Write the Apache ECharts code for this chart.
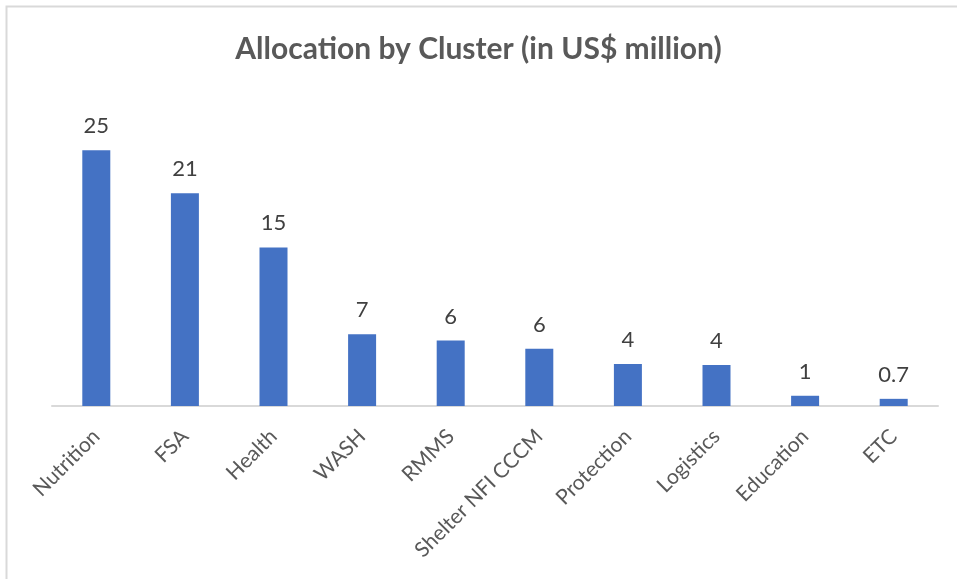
<!DOCTYPE html>
<html>
<head>
<meta charset="utf-8">
<script src="https://cdn.jsdelivr.net/npm/echarts@6/dist/echarts.min.js"></script>
<style>
  html, body { margin: 0; padding: 0; background: #fff; }
  #chart { width: 957px; height: 579px; }
</style>
</head>
<body>
<div id="chart"></div>
<script>
var clusters = ['Nutrition', 'FSA', 'Health', 'WASH', 'RMMS', 'Shelter NFI CCCM', 'Protection', 'Logistics', 'Education', 'ETC'];
// bar heights
var amounts = [25.0, 20.8, 15.5, 7.0, 6.4, 5.6, 4.1, 4.0, 1.0, 0.7];
// printed labels (rounded in the source)
var labels = ['25', '21', '15', '7', '6', '6', '4', '4', '1', '0.7'];

var chart = echarts.init(document.getElementById('chart'));

var option = {
    backgroundColor: '#fff',
    animation: false,
    title: {
        text: 'Allocation by Cluster (in US$ million)',
        left: 'center',
        top: 29,
        textStyle: {
            fontFamily: 'Lato',
            fontWeight: 'bold',
            fontSize: 30,
            color: '#595959'
        }
    },
    graphic: [{
        type: 'rect',
        shape: { x: 6.5, y: 6.5, width: 1000, height: 1000 },
        style: { fill: 'none', stroke: '#d9d9d9', lineWidth: 2 },
        silent: true
    }],
    grid: {
        left: 52,
        right: 19,
        top: 99,
        bottom: 173
    },
    xAxis: {
        type: 'category',
        data: clusters,
        axisLine: { lineStyle: { color: '#d9d9d9', width: 2 } },
        axisTick: { show: false },
        axisLabel: {
            interval: 0,
            rotate: 45,
            margin: 27,
            fontFamily: 'Lato',
            fontSize: 21,
            color: '#595959'
        }
    },
    yAxis: {
        type: 'value',
        min: 0,
        max: 30,
        show: false
    },
    series: [{
        type: 'bar',
        data: amounts,
        barWidth: 28,
        itemStyle: { color: '#4472c4' },
        label: {
            show: true,
            position: 'top',
            distance: 13,
            fontFamily: 'Lato',
            fontSize: 22,
            color: '#404040',
            formatter: function (p) { return labels[p.dataIndex]; }
        }
    }]
};

chart.setOption(option);
</script>
</body>
</html>
